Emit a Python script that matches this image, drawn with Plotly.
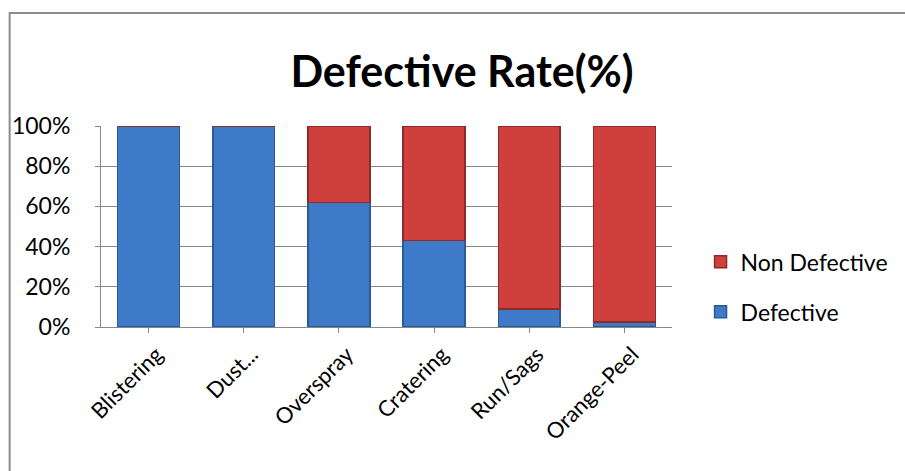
import plotly.graph_objects as go

# Paint defect categories and their share of defective vs non-defective parts (%)
categories = ["Blistering", "Dust...", "Overspray", "Cratering", "Run/Sags", "Orange-Peel"]
defective = [100, 100, 62, 43, 9, 2.6]
non_defective = [0, 0, 38, 57, 91, 97.4]
y_ticks = [0, 20, 40, 60, 80, 100]
y_tick_labels = ["0%", "20%", "40%", "60%", "80%", "100%"]

FONT = "Lato"
W, H = 905, 471
L, R, T, B = 97, 233, 126, 144

fig = go.Figure()
fig.add_trace(go.Bar(
    x=categories, y=defective, name="Defective", legendgroup="d", legendrank=2,
    marker=dict(color="#3e7ac8", line=dict(color="#2a5a98", width=1.5)),
))
fig.add_trace(go.Bar(
    x=categories, y=non_defective, name="Non Defective", legendgroup="n", legendrank=1,
    marker=dict(color="#cf3f3c", line=dict(color="#8f2a27", width=1.5)),
))

pw = W - L - R
ph = H - T - B
# chart frame (only left and top edges fall inside the page)
fig.add_shape(type="rect", xref="paper", yref="paper",
              x0=(5 - L) / pw, x1=(W + 20 - L) / pw,
              y0=-(H + 20 - T - ph) / ph, y1=1 + (T - 13) / ph,
              line=dict(color="#8c8c8c", width=2), fillcolor="rgba(0,0,0,0)", layer="below")

fig.update_layout(
    width=W, height=H,
    margin=dict(l=L, r=R, t=T, b=B),
    paper_bgcolor="white", plot_bgcolor="white",
    barmode="stack", bargap=0.35,
    title=dict(text="<b>Defective Rate(%)</b>", x=462 / W, xanchor="center",
               y=1 - 72 / H, yanchor="middle",
               font=dict(family=FONT, size=43, color="black")),
    font=dict(family=FONT, size=20, color="black"),
    legend=dict(traceorder="grouped", tracegroupgap=17,
                x=1.05, xanchor="left", y=0.2, yanchor="middle",
                font=dict(family=FONT, size=23), itemwidth=30),
    showlegend=True,
)
fig.update_xaxes(showline=True, linecolor="#888888", linewidth=1,
                 ticks="outside", ticklen=5, tickcolor="#888888",
                 tickangle=-45, ticklabelshift=8,
                 tickfont=dict(family=FONT, size=22))
fig.update_yaxes(range=[0, 100], tickvals=y_ticks, ticktext=y_tick_labels,
                 showgrid=True, gridcolor="#888888", gridwidth=1,
                 showline=True, linecolor="#888888", linewidth=1,
                 ticks="outside", ticklen=5, tickcolor="#888888",
                 ticklabelstandoff=20,
                 tickfont=dict(family=FONT, size=23), zeroline=False)

fig.write_html("out.html")
